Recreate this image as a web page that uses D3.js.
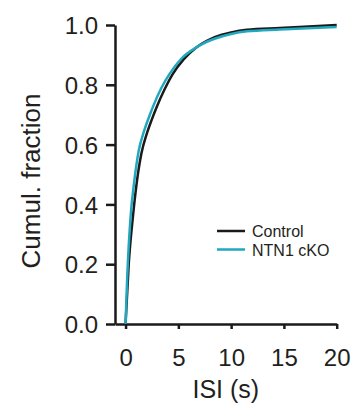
<!DOCTYPE html>
<html>
<head>
<meta charset="utf-8">
<script src="https://cdn.jsdelivr.net/npm/d3@7"></script>
<style>
  body { margin: 0; background: #fff; }
  svg text { font-family: "Liberation Sans", Arial, sans-serif; fill: #231f20; }
</style>
</head>
<body>
<div id="chart"></div>
<script>
// cumulative ISI distributions
const controlISI = [0, 0.3, 0.7, 1.05, 1.5, 2.0, 2.5, 3.0, 3.7, 4.45, 5.5, 6.7, 7.7, 8.5, 10, 11.5, 14.6, 17.8, 20];
const controlFrac = [0, 0.2, 0.36, 0.47, 0.57, 0.635, 0.685, 0.73, 0.785, 0.835, 0.885, 0.925, 0.947, 0.96, 0.975, 0.984, 0.99, 0.996, 1.0];
const ckoISI = [0, 0.15, 0.5, 0.8, 1.25, 1.75, 2.25, 2.6, 3.4, 4.2, 5.3, 6.7, 7.7, 8.5, 10, 11.5, 14.6, 17.8, 20];
const ckoFrac = [0, 0.15, 0.37, 0.47, 0.58, 0.645, 0.695, 0.727, 0.79, 0.838, 0.888, 0.925, 0.944, 0.955, 0.97, 0.979, 0.985, 0.99, 0.993];

const seriesNames = ["Control", "NTN1 cKO"];
const seriesColors = ["#1a1a1a", "#21a8bf"];
const xTicks = [0, 5, 10, 15, 20];
const yTicks = [0, 0.2, 0.4, 0.6, 0.8, 1.0];

const width = 353, height = 407;

const svg = d3.select("#chart").append("svg")
    .attr("width", width)
    .attr("height", height);

const x = d3.scaleLinear().domain([-1, 20]).range([115, 336.7]);
const y = d3.scaleLinear().domain([0, 1]).range([324, 25]);

// axes
const gY = svg.append("g").attr("transform", "translate(115,0)")
    .call(d3.axisLeft(y).tickValues(yTicks).tickFormat(d3.format(".1f")).tickSize(9).tickPadding(8).tickSizeOuter(0));
const gX = svg.append("g").attr("transform", "translate(0,324)")
    .call(d3.axisBottom(x).tickValues(xTicks).tickSize(5).tickPadding(20).tickSizeOuter(0));

[gX, gY].forEach(g => {
    g.select(".domain").attr("stroke", "#1a1a1a").attr("stroke-width", 2.5);
    g.selectAll(".tick line").attr("stroke", "#1a1a1a").attr("stroke-width", 2.5);
    g.selectAll(".tick text").attr("font-size", 24).attr("fill", "#231f20")
        .style("font-family", "'Liberation Sans', Arial, sans-serif");
});
gY.selectAll(".tick text").attr("dy", "0.36em");
gX.selectAll(".tick text").attr("dy", "0.71em");

// axis labels
svg.append("text")
    .attr("x", x(9.5)).attr("y", 398)
    .attr("text-anchor", "middle")
    .attr("font-size", 25)
    .text("ISI (s)");
svg.append("text")
    .attr("transform", "translate(40,181) rotate(-90)")
    .attr("text-anchor", "middle")
    .attr("font-size", 26)
    .text("Cumul. fraction");

// curves
const line = d3.line().x(d => x(d[0])).y(d => y(d[1])).curve(d3.curveMonotoneX);
const series = [
    d3.zip(controlISI, controlFrac),
    d3.zip(ckoISI, ckoFrac)
];
series.forEach((pts, i) => {
    svg.append("path")
        .datum(pts)
        .attr("fill", "none")
        .attr("stroke", seriesColors[i])
        .attr("stroke-width", 2.5)
        .attr("stroke-linejoin", "round")
        .attr("d", line);
});

// legend
const legend = svg.append("g").attr("transform", "translate(217,231)");
seriesNames.forEach((name, i) => {
    legend.append("line")
        .attr("x1", 0).attr("x2", 28)
        .attr("y1", i * 18.5).attr("y2", i * 18.5)
        .attr("stroke", seriesColors[i])
        .attr("stroke-width", 2.5);
    legend.append("text")
        .attr("x", 35).attr("y", i * 18.5 + 6)
        .attr("font-size", 16)
        .text(name);
});
</script>
</body>
</html>
